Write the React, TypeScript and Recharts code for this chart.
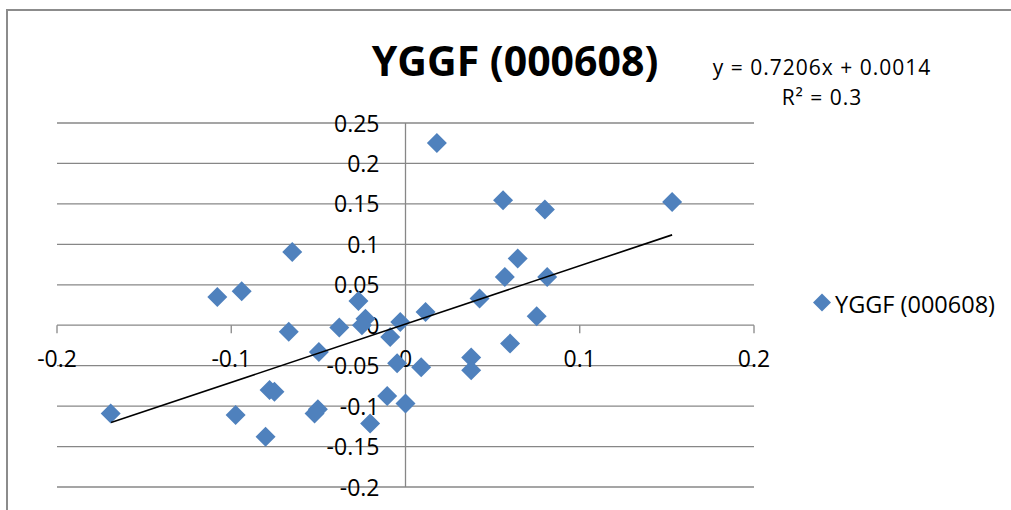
import React from 'react';
import {
  ScatterChart,
  Scatter,
  XAxis,
  YAxis,
  ZAxis,
  CartesianGrid,
  ReferenceLine,
  ReferenceDot,
  Legend,
} from 'recharts';

const seriesName = 'YGGF (000608)';
const titleText = 'YGGF (000608)';
const equationText = 'y = 0.7206x + 0.0014';
const r2Text = 'R² = 0.3';

const xValues = [
  0.018, 0.056, 0.080, 0.153, -0.065, -0.108, -0.094, -0.027, -0.067, -0.038,
  -0.023, -0.025, -0.003, 0.0115, 0.0425, 0.057, 0.0644, 0.0813, 0.0753, 0.060,
  0.0377, 0.0377, 0.009, -0.0048, -0.0088, -0.0497, -0.078, -0.0752, -0.0503, -0.0522,
  -0.0975, -0.0803, -0.0203, -0.0105, 0.0, -0.1692,
];
const yValues = [
  0.2254, 0.1545, 0.143, 0.1524, 0.0906, 0.035, 0.042, 0.030, -0.0082, -0.0029,
  0.008, 0.0, 0.004, 0.0165, 0.033, 0.0597, 0.0824, 0.0597, 0.0111, -0.0227,
  -0.040, -0.0556, -0.052, -0.047, -0.0145, -0.033, -0.080, -0.0824, -0.104, -0.109,
  -0.111, -0.138, -0.1215, -0.0874, -0.0968, -0.109,
];

const xTicks = [-0.2, -0.1, 0, 0.1, 0.2];
const xTickLabels = ['-0.2', '-0.1', '0', '0.1', '0.2'];
const yTicks = [-0.2, -0.15, -0.1, -0.05, 0, 0.05, 0.1, 0.15, 0.2, 0.25];
const yTickLabels = ['-0.2', '-0.15', '-0.1', '-0.05', '0', '0.05', '0.1', '0.15', '0.2', '0.25'];

const trendX = [-0.169, 0.153];
const trendY = [-0.1204, 0.1117];

const points = xValues.map((x, i) => ({ x, y: yValues[i] }));
const trendData = trendX.map((x, i) => ({ x, y: trendY[i] }));

const FONT = "'Open Sans', sans-serif";
const BLUE = '#4F81BD';
const GRID = '#878787';

const Diamond = (props: any) => {
  const { cx, cy } = props;
  if (cx == null || cy == null) return <g />;
  const h = 10;
  return (
    <path
      d={`M${cx} ${cy - h}L${cx + h} ${cy}L${cx} ${cy + h}L${cx - h} ${cy}Z`}
      fill={BLUE}
    />
  );
};

const NoShape = () => <g />;

const renderLegend = (props: any) => {
  const items = (props.payload || []).filter((p: any) => p.value === seriesName);
  return (
    <svg width={200} height={40} style={{ overflow: 'visible', display: 'block' }}>
      {items.map((it: any) => (
        <g key={it.value}>
          <path d="M12 5.5L21 14.5L12 23.5L3 14.5Z" fill={BLUE} />
          <text x={25} y={25} fontFamily={FONT} fontSize={23.5} fill="#000">
            {it.value}
          </text>
        </g>
      ))}
    </svg>
  );
};

export default function App() {
  return (
    <div
      style={{
        position: 'absolute',
        left: 0,
        top: 0,
        width: 1011,
        height: 510,
        overflow: 'hidden',
        background: '#fff',
      }}
    >
      <div
        style={{
          position: 'absolute',
          left: 6,
          top: 9,
          width: 1100,
          height: 600,
          border: '2px solid #8c8c8c',
        }}
      />
      <div style={{ position: 'absolute', left: 0, top: 0 }}>
        <ScatterChart
          width={1011}
          height={510}
          margin={{ top: 123, right: 257, bottom: 23, left: 57 }}
        >
          <XAxis type="number" dataKey="x" domain={[-0.2, 0.2]} ticks={xTicks} hide />
          <YAxis type="number" dataKey="y" domain={[-0.2, 0.25]} ticks={yTicks} hide />
          <ZAxis range={[200, 200]} />
          <CartesianGrid
            vertical={false}
            horizontalValues={yTicks}
            stroke={GRID}
            strokeWidth={1.3}
            strokeDasharray=""
          />
          <ReferenceLine x={0} stroke={GRID} strokeWidth={1.3} />
          {xTicks
            .filter((v) => v !== 0)
            .map((v) => (
              <ReferenceLine
                key={`xt${v}`}
                segment={[
                  { x: v, y: 0 },
                  { x: v, y: -0.01 },
                ]}
                stroke={GRID}
                strokeWidth={1.3}
              />
            ))}
          {xTicks.map((v, i) => (
            <ReferenceDot
              key={`xl${v}`}
              x={v}
              y={0}
              r={0}
              fill="none"
              stroke="none"
              label={{
                content: (p: any) => {
                  const vb = p.viewBox || {};
                  const cx = vb.x + (vb.width || 0) / 2;
                  const cy = vb.y + (vb.height || 0) / 2;
                  return (
                    <text
                      x={cx}
                      y={cy + 42}
                      textAnchor="middle"
                      fontFamily={FONT}
                      fontSize={23}
                      fill="#000"
                    >
                      {xTickLabels[i]}
                    </text>
                  );
                },
              }}
            />
          ))}
          {yTicks.map((v, i) => (
            <ReferenceDot
              key={`yl${v}`}
              x={0}
              y={v}
              r={0}
              fill="none"
              stroke="none"
              label={{
                content: (p: any) => {
                  const vb = p.viewBox || {};
                  const cx = vb.x + (vb.width || 0) / 2;
                  const cy = vb.y + (vb.height || 0) / 2;
                  return (
                    <text
                      x={cx - 26}
                      y={cy + 8.5}
                      textAnchor="end"
                      fontFamily={FONT}
                      fontSize={23}
                      fill="#000"
                    >
                      {yTickLabels[i]}
                    </text>
                  );
                },
              }}
            />
          ))}
          <Scatter
            name={seriesName}
            data={points}
            shape={Diamond}
            isAnimationActive={false}
          />
          <Scatter
            name="trend"
            data={trendData}
            line={{ stroke: '#000', strokeWidth: 1.6 }}
            shape={NoShape}
            legendType="none"
            isAnimationActive={false}
          />
          <Legend
            layout="vertical"
            align="center"
            verticalAlign="middle"
            content={renderLegend}
            wrapperStyle={{ position: 'absolute', left: 810, top: 288, width: 200, height: 40 }}
          />
        </ScatterChart>
      </div>
      <svg
        width={1011}
        height={510}
        style={{ position: 'absolute', left: 0, top: 0, pointerEvents: 'none' }}
      >
        <text
          x={515}
          y={76}
          textAnchor="middle"
          fontFamily={FONT}
          fontWeight="bold"
          fontSize={41}
          fill="#000"
        >
          {titleText}
        </text>
        <text
          x={822}
          y={75}
          textAnchor="middle"
          fontFamily={FONT}
          fontSize={21}
          letterSpacing={1}
          fill="#000"
        >
          {equationText}
        </text>
        <text
          x={822}
          y={105}
          textAnchor="middle"
          fontFamily={FONT}
          fontSize={21}
          letterSpacing={1}
          fill="#000"
        >
          {r2Text}
        </text>
      </svg>
    </div>
  );
}
